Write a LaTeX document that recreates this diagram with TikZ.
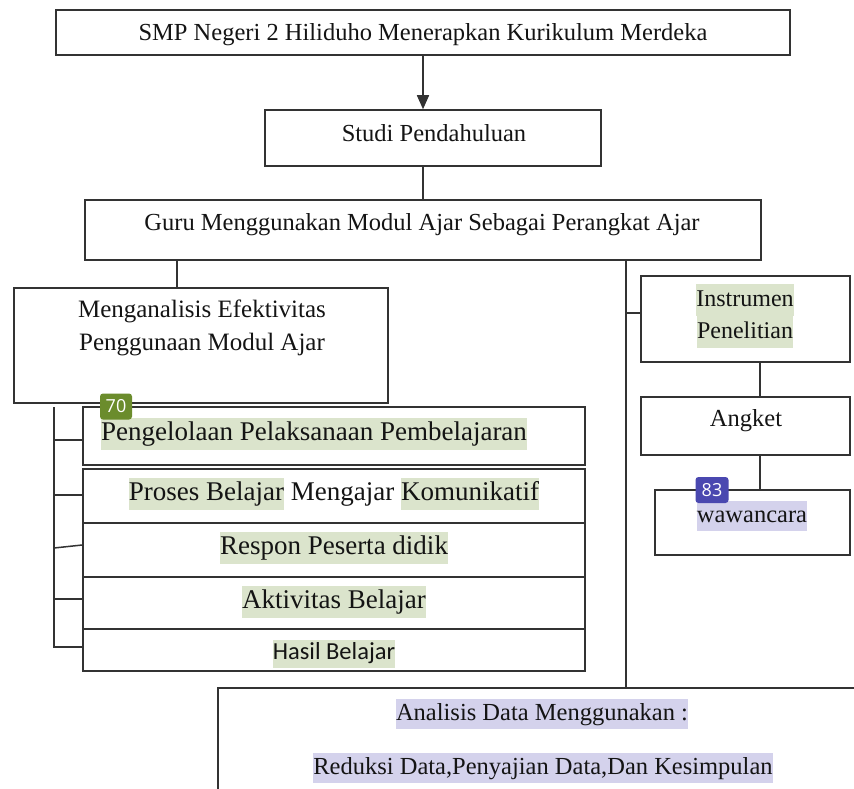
\documentclass[tikz,border=0pt]{standalone}
\usepackage{fontspec}
\usetikzlibrary{arrows.meta}
\setmainfont{Liberation Serif}
\newfontfamily\carl{Carlito}
\newfontfamily\bdgfont{Open Sans}
\definecolor{boxc}{HTML}{333333}
\definecolor{hlg}{HTML}{DBE4CC}
\definecolor{hll}{HTML}{D4D2EC}
\definecolor{bdgg}{HTML}{6B8C2C}
\definecolor{bdgb}{HTML}{4A48B0}
\definecolor{txt}{HTML}{141414}
\newcommand{\hg}[1]{{\setlength{\fboxsep}{0pt}\colorbox{hlg}{\strut #1}}}
\newcommand{\hv}[1]{{\setlength{\fboxsep}{0pt}\colorbox{hll}{\strut #1}}}
\tikzset{
  box/.style={draw=boxc, line width=1.5pt, inner sep=0pt, fill=white},
  lbl/.style={inner sep=0pt, text=txt, font=\fontsize{24.5}{30}\selectfont, align=center},
  big/.style={inner sep=0pt, text=txt, font=\fontsize{27}{32}\selectfont, align=center},
  con/.style={draw=boxc, line width=1.5pt},
  badge/.style={rounded corners=3pt, inner sep=0pt, text=white, font=\bdgfont\fontsize{18}{20}\selectfont}
}
\begin{document}
\begin{tikzpicture}[x=1pt,y=-1pt]
\useasboundingbox (0,0) rectangle (854,789);
\clip (0,0) rectangle (854,789);
\fill[white] (0,0) rectangle (854,789);
% boxes
\node[box, minimum width=734pt, minimum height=45pt] (top) at (423,32.5) {};
\node[box, minimum width=336pt, minimum height=56pt] (studi) at (433,138) {};
\node[box, minimum width=676pt, minimum height=60pt] (guru) at (423,230) {};
\node[box, minimum width=374pt, minimum height=115pt] (mengan) at (201,345.5) {};
\node[box, minimum width=209pt, minimum height=86pt] (instr) at (745.5,319) {};
\node[box, minimum width=209pt, minimum height=58pt] (angket) at (745.5,426) {};
\node[box, minimum width=195pt, minimum height=65pt] (waw) at (752.5,522.5) {};
\node[box, minimum width=502pt, minimum height=58pt] (row1) at (334,436) {};
\node[box, minimum width=502pt, minimum height=54pt] (row2) at (334,496) {};
\node[box, minimum width=502pt, minimum height=54pt] (row3) at (334,550) {};
\node[box, minimum width=502pt, minimum height=52pt] (row4) at (334,603) {};
\node[box, minimum width=502pt, minimum height=42pt] (row5) at (334,650) {};
\node[box, minimum width=782pt, minimum height=212pt] (anal) at (609,794) {};
% texts
\node[lbl] (ttop) at (423,35) {SMP Negeri 2 Hiliduho Menerapkan Kurikulum Merdeka};
\node[lbl] (tstudi) at (434,133) {Studi Pendahuluan};
\node[lbl] (tguru) at (422,225) {Guru Menggunakan Modul Ajar Sebagai Perangkat Ajar};
\node[lbl, font=\fontsize{25}{33}\selectfont] (tmengan) at (202,328) {Menganalisis Efektivitas\\Penggunaan Modul Ajar};
\node[lbl, font=\fontsize{24}{32}\selectfont] (tinstr) at (745,316) {\hg{Instrumen}\\\hg{Penelitian}};
\node[lbl] (tangket) at (746,421) {Angket};
\node[lbl] (twaw) at (752,516) {\hv{wawancara}};
\node[big] (tr1) at (314,434) {\hg{Pengelolaan Pelaksanaan Pembelajaran}};
\node[big] (tr2) at (334,494) {\hg{Proses Belajar} Mengajar \hg{Komunikatif}};
\node[big] (tr3) at (334,548) {\hg{Respon Peserta didik}};
\node[big] (tr4) at (334,602) {\hg{Aktivitas Belajar}};
\node[inner sep=0pt, text=txt, font=\carl\fontsize{24.5}{28}\selectfont] (tr5) at (334,654) {\hg{Hasil Belajar}};
\node[lbl] (tanal1) at (542,714) {\hv{Analisis Data Menggunakan :}};
\node[lbl] (tanal2) at (543,768) {\hv{Reduksi Data,Penyajian Data,Dan Kesimpulan}};
% connectors
\draw[con, -{Triangle[length=14pt,width=12pt]}] (top.south) -- (studi.north -| top.south);
\draw[con] (studi.south -| top.south) -- (guru.north -| top.south);
\coordinate (gx) at (177,0);
\draw[con] (gx |- guru.south) -- (gx |- mengan.north);
\coordinate (rx) at (626,0);
\coordinate (rb) at (626,313);
\draw[con] (rx |- guru.south) -- (rx |- anal.north);
\draw[con] (rb) -- (rb -| instr.west);
\coordinate (ax) at (760,0);
\draw[con] (ax |- instr.south) -- (ax |- angket.north);
\draw[con] (ax |- angket.south) -- (ax |- waw.north);
% left spine
\coordinate (sTop) at (54,407);
\coordinate (s1) at (54,440);
\coordinate (s2) at (54,495);
\coordinate (s3) at (54,548);
\coordinate (s4) at (54,599);
\coordinate (s5) at (54,647);
\draw[con] (sTop) -- (s5) -- (s5 -| row5.west);
\draw[con] (s1) -- (s1 -| row1.west);
\draw[con] (s2) -- (s2 -| row2.west);
\draw[con] (s3) -- ([yshift=3pt]s3 -| row3.west);
\draw[con] (s4) -- (s4 -| row4.west);
% badges
\node[badge, fill=bdgg, minimum width=32pt, minimum height=26pt] (b70) at (116,406.5) {70};
\node[badge, fill=bdgb, minimum width=33pt, minimum height=26pt] (b83) at (712,490) {83};
\end{tikzpicture}
\end{document}
